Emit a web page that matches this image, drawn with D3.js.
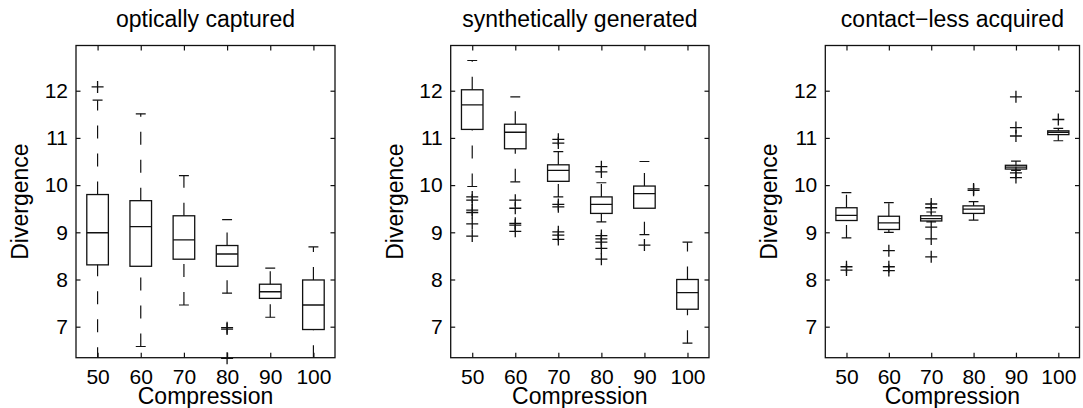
<!DOCTYPE html>
<html><head><meta charset="utf-8">
<script src="https://cdn.jsdelivr.net/npm/d3@7"></script>
<style>
body{margin:0;background:#fff}
svg{display:block}
text{font-family:"Liberation Sans",Arial,Helvetica,sans-serif;fill:#000}
</style>
</head><body><svg id="chart" width="1083" height="408"></svg>
<script>
// ---------- data ----------
const categories = [50, 60, 70, 80, 90, 100];
const yTickValues = [7, 8, 9, 10, 11, 12];
const panelTitles = ["optically captured", "synthetically generated", "contact\u2212less acquired"];
const xLabel = "Compression";
const yLabel = "Divergence";

// optically captured
const opticalLow    = [6.29, 6.58, 7.46, 7.71, 7.20, 6.33];
const opticalQ1     = [8.31, 8.28, 8.43, 8.28, 7.60, 6.94];
const opticalMedian = [8.99, 9.12, 8.84, 8.54, 7.74, 7.46];
const opticalQ3     = [9.80, 9.67, 9.35, 8.72, 7.90, 7.99];
const opticalHigh   = [11.80, 11.51, 10.20, 9.27, 8.24, 8.69];
const opticalOutliers = [[12.08], [], [], [6.98, 6.95, 6.33], [], []];

// synthetically generated
const syntheticLow    = [9.97, 10.07, 9.75, 9.22, 8.95, 6.65];
const syntheticQ1     = [11.18, 10.77, 10.08, 9.40, 9.51, 7.37];
const syntheticMedian = [11.70, 11.12, 10.31, 9.59, 9.82, 7.72];
const syntheticQ3     = [12.02, 11.29, 10.43, 9.75, 9.98, 8.00];
const syntheticHigh   = [12.64, 11.87, 10.71, 10.05, 10.50, 8.79];
const syntheticOutliers = [
  [9.75, 9.68, 9.47, 9.42, 9.18, 8.92],
  [9.68, 9.51, 9.19, 9.15, 9.02],
  [10.97, 10.89, 9.59, 9.54, 9.01, 8.94, 8.85],
  [10.39, 10.28, 8.93, 8.86, 8.79, 8.66, 8.43],
  [8.73],
  []
];

// contact-less acquired
const contactLow    = [8.88, 9.00, 9.22, 9.26, 10.31, 10.94];
const contactQ1     = [9.25, 9.06, 9.24, 9.40, 10.34, 11.07];
const contactMedian = [9.36, 9.20, 9.29, 9.49, 10.38, 11.12];
const contactQ3     = [9.52, 9.34, 9.35, 9.56, 10.42, 11.15];
const contactHigh   = [9.84, 9.63, 9.43, 9.65, 10.51, 11.20];
const contactOutliers = [
  [8.27, 8.20],
  [8.61, 8.27, 8.19],
  [9.60, 9.52, 9.11, 8.86, 8.48],
  [9.92, 9.89],
  [11.87, 11.22, 11.04, 10.26, 10.16],
  [11.39]
];

const panelData = [
  {low: opticalLow, q1: opticalQ1, med: opticalMedian, q3: opticalQ3, high: opticalHigh, out: opticalOutliers},
  {low: syntheticLow, q1: syntheticQ1, med: syntheticMedian, q3: syntheticQ3, high: syntheticHigh, out: syntheticOutliers},
  {low: contactLow, q1: contactQ1, med: contactMedian, q3: contactQ3, high: contactHigh, out: contactOutliers}
];

// ---------- layout ----------
const frames = [
  {left: 76, right: 335},
  {left: 450.7, right: 709},
  {left: 825.3, right: 1079.5}
];
const plotTop = 45.5, plotBottom = 357.7;
const ink = "#111";
const svg = d3.select("#chart");
const defs = svg.append("defs");

frames.forEach((f, pi) => {
  const d = panelData[pi];
  const x = d3.scaleLinear().domain([0.5, categories.length + 0.5]).range([f.left, f.right]);
  const y = d3.scaleLinear().domain([6.343, 12.958]).range([plotBottom, plotTop]);
  const g = svg.append("g");

  const clipId = "clip" + pi;
  defs.append("clipPath").attr("id", clipId)
    .append("rect").attr("x", f.left).attr("y", plotTop)
    .attr("width", f.right - f.left).attr("height", plotBottom - plotTop);

  const clipped = g.append("g").attr("clip-path", `url(#${clipId})`);

  categories.forEach((c, i) => {
    const pos = i + 1;
    const cx = x(pos);
    const bx0 = x(pos - 0.25), bx1 = x(pos + 0.25);
    const cw = x(pos + 0.115) - cx;
    // whiskers (dashed, drawn bottom to top)
    clipped.append("line").attr("x1", cx).attr("x2", cx)
      .attr("y1", y(d.q3[i])).attr("y2", y(d.high[i]))
      .attr("stroke", ink).attr("stroke-width", 1.2).attr("stroke-dasharray", "13,15");
    clipped.append("line").attr("x1", cx).attr("x2", cx)
      .attr("y1", y(d.low[i])).attr("y2", y(d.q1[i]))
      .attr("stroke", ink).attr("stroke-width", 1.2).attr("stroke-dasharray", "13,15");
    // caps
    [d.low[i], d.high[i]].forEach(v => {
      clipped.append("line").attr("x1", cx - cw).attr("x2", cx + cw)
        .attr("y1", y(v)).attr("y2", y(v))
        .attr("stroke", ink).attr("stroke-width", 1.2);
    });
    // box
    clipped.append("rect").attr("x", bx0).attr("y", y(d.q3[i]))
      .attr("width", bx1 - bx0).attr("height", y(d.q1[i]) - y(d.q3[i]))
      .attr("fill", "none").attr("stroke", ink).attr("stroke-width", 1.3);
    clipped.append("line").attr("x1", bx0).attr("x2", bx1)
      .attr("y1", y(d.med[i])).attr("y2", y(d.med[i]))
      .attr("stroke", ink).attr("stroke-width", 1.3);
    // outliers
    d.out[i].forEach(v => {
      const yy = y(v), s = 6;
      g.append("path")
        .attr("d", `M${cx - s},${yy}H${cx + s}M${cx},${yy - s}V${yy + s}`)
        .attr("stroke", ink).attr("stroke-width", 1.3).attr("fill", "none");
    });
  });

  // axes (inward ticks on all four sides)
  const xTicks = categories.map((c, i) => i + 1);
  const ab = g.append("g").attr("transform", `translate(0,${plotBottom})`)
    .call(d3.axisBottom(x).tickValues(xTicks).tickFormat((t) => categories[t - 1]).tickSize(-5).tickPadding(11));
  const at = g.append("g").attr("transform", `translate(0,${plotTop})`)
    .call(d3.axisTop(x).tickValues(xTicks).tickFormat("").tickSize(-5));
  const al = g.append("g").attr("transform", `translate(${f.left},0)`)
    .call(d3.axisLeft(y).tickValues(yTickValues).tickFormat(d3.format("d")).tickSize(-4.5).tickPadding(8));
  const ar = g.append("g").attr("transform", `translate(${f.right},0)`)
    .call(d3.axisRight(y).tickValues(yTickValues).tickFormat("").tickSize(-4.5));
  [ab, at, al, ar].forEach(a => {
    a.select(".domain").remove();
    a.selectAll(".tick line").attr("stroke", ink).attr("stroke-width", 1.2);
    a.selectAll("text").attr("font-size", 21).attr("fill", "#000")
      .attr("font-family", '"Liberation Sans", Arial, sans-serif');
  });

  g.append("rect").attr("x", f.left).attr("y", plotTop)
    .attr("width", f.right - f.left).attr("height", plotBottom - plotTop)
    .attr("fill", "none").attr("stroke", ink).attr("stroke-width", 1.3);

  const mid = (f.left + f.right) / 2;
  g.append("text").attr("x", mid).attr("y", 27).attr("text-anchor", "middle")
    .attr("font-size", 23).text(panelTitles[pi]);
  g.append("text").attr("x", mid).attr("y", 404).attr("text-anchor", "middle")
    .attr("font-size", 23).text(xLabel);
  g.append("text").attr("transform", `translate(${f.left - 48},${(plotTop + plotBottom) / 2}) rotate(-90)`)
    .attr("text-anchor", "middle").attr("font-size", 23).text(yLabel);
});
</script></body></html>
